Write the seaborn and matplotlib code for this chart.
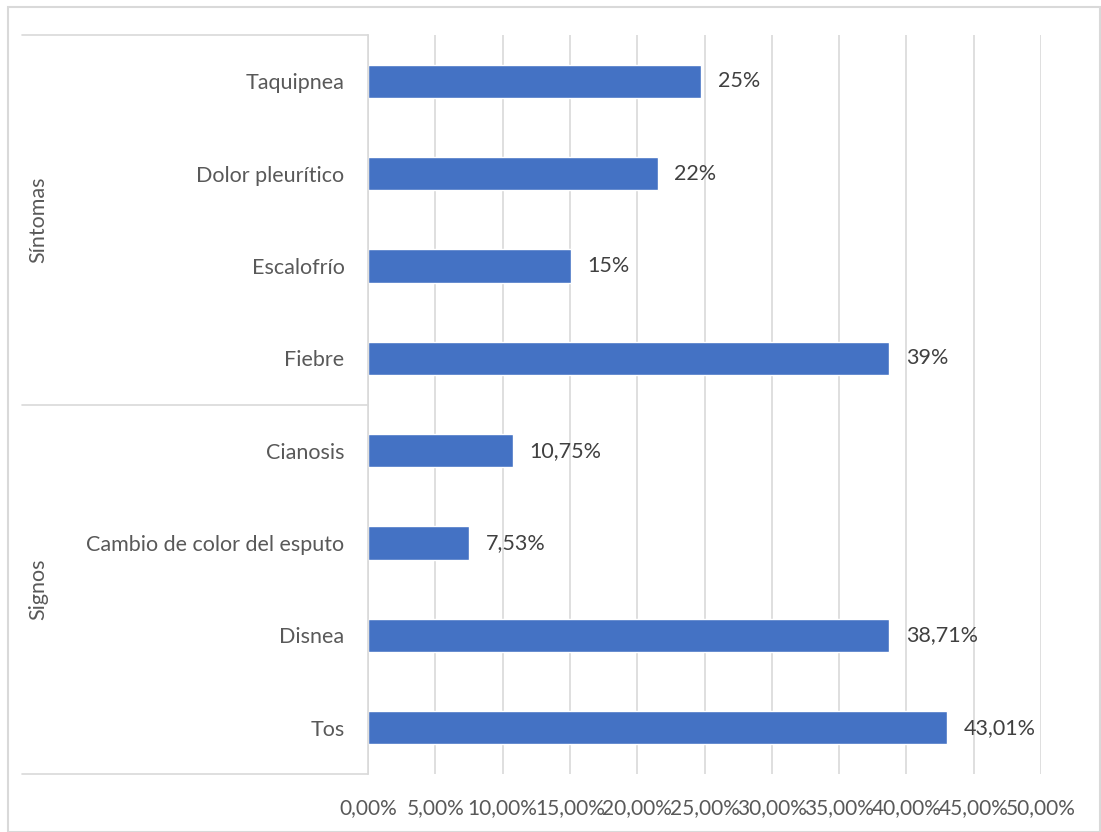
import matplotlib
matplotlib.use("Agg")
import matplotlib.pyplot as plt
import seaborn as sns
import pandas as pd
from matplotlib.lines import Line2D
from matplotlib.patches import Rectangle

categories = ["Taquipnea", "Dolor pleurítico", "Escalofrío", "Fiebre",
              "Cianosis", "Cambio de color del esputo", "Disnea", "Tos"]
values = [0.2473, 0.2151, 0.1505, 0.3871, 0.1075, 0.0753, 0.3871, 0.4301]
value_labels = ["25%", "22%", "15%", "39%", "10,75%", "7,53%", "38,71%", "43,01%"]
groups = ["Síntomas", "Signos"]
group_sizes = [4, 4]
x_ticks = [0.0, 0.05, 0.10, 0.15, 0.20, 0.25, 0.30, 0.35, 0.40, 0.45, 0.50]
x_tick_labels = ["0,00%", "5,00%", "10,00%", "15,00%", "20,00%", "25,00%",
                 "30,00%", "35,00%", "40,00%", "45,00%", "50,00%"]

sns.set_style("white")
plt.rcParams["font.family"] = ["Lato", "DejaVu Sans"]

W, H = 1101, 832
fig = plt.figure(figsize=(W / 100, H / 100), dpi=100)
left, right, top, bottom = 368, 1041, 35, 774
ax = fig.add_axes([left / W, 1 - bottom / H, (right - left) / W, (bottom - top) / H])

df = pd.DataFrame({"cat": categories, "val": values})
sns.barplot(data=df, y="cat", x="val", order=categories, orient="h",
            color="#4472C4", width=0.36, saturation=1, ax=ax)

ax.set_xlim(0, 0.5)
ax.set_ylim(len(categories) - 0.5, -0.5)
ax.set_xticks(x_ticks)
ax.set_xticklabels(x_tick_labels)
ax.set_xlabel("")
ax.set_ylabel("")
ax.xaxis.grid(True, color="#d9d9d9", linewidth=1.2)
ax.set_axisbelow(True)
for s in ["top", "right", "bottom"]:
    ax.spines[s].set_visible(False)
ax.spines["left"].set_color("#d9d9d9")
ax.spines["left"].set_linewidth(1.2)
ax.tick_params(axis="x", length=0, pad=17, labelsize=15, labelcolor="#595959")
ax.tick_params(axis="y", length=0, pad=17, labelsize=15.5, labelcolor="#595959")

for i, (v, lab) in enumerate(zip(values, value_labels)):
    ax.annotate(lab, xy=(v, i), xytext=(12, 0), textcoords="offset points",
                ha="left", va="center", fontsize=15.5, color="#404040")

# group separators and labels
x0 = (22 - left) / (right - left)
bounds = [0]
for g in group_sizes:
    bounds.append(bounds[-1] + g)
n = len(categories)
for b in bounds:
    yy = 1 - b / n
    ax.add_line(Line2D([x0, 0], [yy, yy], transform=ax.transAxes,
                       color="#d9d9d9", linewidth=1.2, clip_on=False))
gx = (38 - left) / (right - left)
for gi, gname in enumerate(groups):
    yc = 1 - (bounds[gi] + bounds[gi + 1]) / 2 / n
    ax.text(gx, yc, gname, transform=ax.transAxes, rotation=90,
            ha="center", va="center", fontsize=15.5, color="#595959")

# chart border
fig.patches.append(Rectangle((8 / W, 0), 1 - 8 / W - 0.001, 1 - 7 / H,
                             transform=fig.transFigure, fill=False,
                             edgecolor="#d9d9d9", linewidth=1.5))

fig.savefig("out.png", dpi=100)
